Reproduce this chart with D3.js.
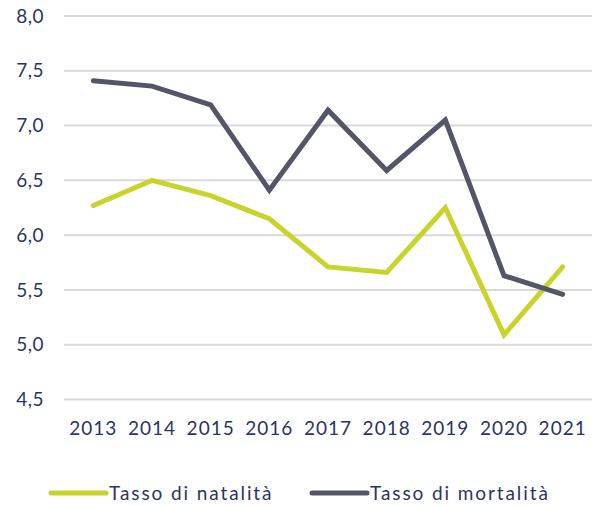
<!DOCTYPE html>
<html>
<head>
<meta charset="utf-8">
<script src="https://cdn.jsdelivr.net/npm/d3@7"></script>
<style>
  body { margin: 0; background: #fff; }
  text { font-family: "Lato", "Open Sans", sans-serif; fill: #2b3461; }
</style>
</head>
<body>
<div id="chart"></div>
<script>
// Data
const years = ["2013", "2014", "2015", "2016", "2017", "2018", "2019", "2020", "2021"];
const natalita = [6.27, 6.50, 6.36, 6.15, 5.71, 5.66, 6.25, 5.09, 5.71];
const mortalita = [7.41, 7.36, 7.19, 6.41, 7.14, 6.59, 7.05, 5.63, 5.46];
const yTicks = [4.5, 5.0, 5.5, 6.0, 6.5, 7.0, 7.5, 8.0];
const seriesNames = ["Tasso di natalità", "Tasso di mortalità"];
const seriesColors = ["#c8d42c", "#545667"];

const width = 596, height = 506;
const plotLeft = 64, plotRight = 592, plotTop = 16, plotBottom = 399.5;

const svg = d3.select("#chart").append("svg")
    .attr("width", width)
    .attr("height", height);

const x = d3.scalePoint()
    .domain(years)
    .range([plotLeft, plotRight])
    .padding(0.5);

const y = d3.scaleLinear()
    .domain([4.5, 8.0])
    .range([plotBottom, plotTop]);

// Gridlines
svg.append("g")
    .selectAll("line")
    .data(yTicks)
    .join("line")
    .attr("x1", plotLeft)
    .attr("x2", plotRight)
    .attr("y1", d => y(d))
    .attr("y2", d => y(d))
    .attr("stroke", "#d9d9d9")
    .attr("stroke-width", 2);

// Y labels
const fmt = d => d.toFixed(1).replace(".", ",");
svg.append("g")
    .selectAll("text")
    .data(yTicks)
    .join("text")
    .attr("x", 44)
    .attr("y", d => y(d))
    .attr("dy", "0.35em")
    .attr("text-anchor", "end")
    .style("font-size", "19px")
    .style("letter-spacing", "0.5px")
    .text(fmt);

// X labels
svg.append("g")
    .selectAll("text")
    .data(years)
    .join("text")
    .attr("x", d => x(d))
    .attr("y", 435)
    .attr("text-anchor", "middle")
    .style("font-size", "19px")
    .style("letter-spacing", "1px")
    .text(d => d);

// Lines
const line = d3.line()
    .x((d, i) => x(years[i]))
    .y(d => y(d));

[natalita, mortalita].forEach((vals, k) => {
    svg.append("path")
        .datum(vals)
        .attr("d", line)
        .attr("fill", "none")
        .attr("stroke", seriesColors[k])
        .attr("stroke-width", 5)
        .attr("stroke-linejoin", "miter")
        .attr("stroke-linecap", "round");
});

// Legend
const legendX = [51, 312];
seriesNames.forEach((name, k) => {
    const g = svg.append("g").attr("transform", "translate(" + legendX[k] + ",493)");
    g.append("line")
        .attr("x1", 0)
        .attr("x2", 55)
        .attr("stroke", seriesColors[k])
        .attr("stroke-width", 5)
        .attr("stroke-linecap", "round");
    g.append("text")
        .attr("x", 58)
        .attr("dy", "0.35em")
        .style("font-size", "19px")
        .style("letter-spacing", "1.9px")
        .text(name);
});
</script>
</body>
</html>
